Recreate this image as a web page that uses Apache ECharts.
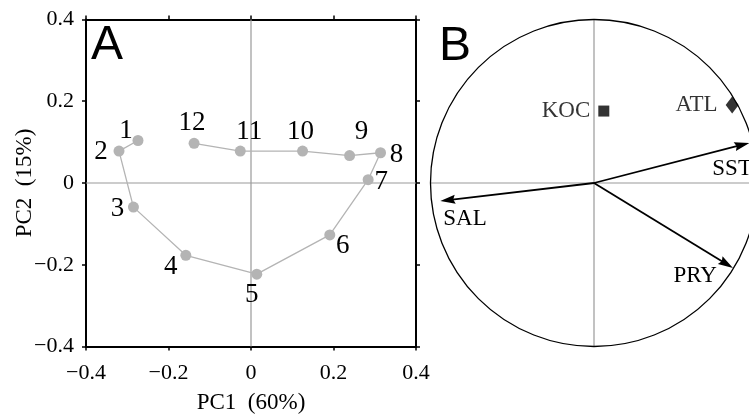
<!DOCTYPE html>
<html>
<head>
<meta charset="utf-8">
<script src="https://cdn.jsdelivr.net/npm/echarts@6/dist/echarts.min.js"></script>
<style>
  html, body { margin: 0; padding: 0; background: #fff; }
  #chart { width: 749px; height: 417px; }
</style>
</head>
<body>
<div id="chart"></div>
<script>
// ---- Panel A: monthly PCA scores ----
const months = ['1', '2', '3', '4', '5', '6', '7', '8', '9', '10', '11', '12'];
const pc1Scores = [-0.274, -0.320, -0.285, -0.158, 0.014, 0.191, 0.284, 0.314, 0.239, 0.125, -0.026, -0.138];
const pc2Scores = [0.104, 0.078, -0.059, -0.177, -0.223, -0.127, 0.008, 0.074, 0.067, 0.078, 0.078, 0.097];
const scoreTicks = [-0.4, -0.2, 0, 0.2, 0.4];

// ---- Panel B: correlation circle ----
const varNames = ['SST', 'SAL', 'PRY'];
const varPC1 = [0.950, -0.940, 0.850];
const varPC2 = [0.245, -0.110, -0.520];
const suppNames = ['KOC', 'ATL'];
const suppPC1 = [0.060, 0.845];
const suppPC2 = [0.440, 0.477];

const SERIF = "'Liberation Serif', 'Times New Roman', serif";
const SANS = "'Liberation Sans', Arial, sans-serif";

// label placement (pixel offsets) for the month numbers
const monthLabelOffset = [
  [-12, -10], [-18, 1], [-16, 2], [-15, 12], [-5, 21], [13, 11],
  [13, 2], [16, 2], [12, -24], [-2, -19], [9, -19], [-2, -20]
];
// label placement for the loading vectors: [dx, dy, align]
const varLabelPlace = {
  SST: [-37, 26, 'left'],
  SAL: [3, 18, 'left'],
  PRY: [-16, 8, 'right']
};

const fmtTick = v => (v === 0 ? '0' : String(+v.toFixed(1)).replace('-', '\u2212'));
const tMin = scoreTicks[0], tMax = scoreTicks[scoreTicks.length - 1];
const tStep = +(scoreTicks[1] - scoreTicks[0]).toFixed(2);

// Panel B layout: the unit circle runs past the right edge of the page,
// so the x-range is cut where the page ends.
const CANVAS_W = 749;
const bLeft = 430.5, bTop = 19.5, bDiam = 327;
const bWidth = CANVAS_W - bLeft;
const bXMax = -1 + 2 * bWidth / bDiam;

const monthData = months.map((m, i) => ({
  value: [pc1Scores[i], pc2Scores[i]],
  name: m,
  label: { offset: monthLabelOffset[i] }
}));

const frameAxisLine = { show: true, onZero: false, lineStyle: { color: '#000', width: 2 } };
const frameTick = { show: true, inside: false, length: 4, lineStyle: { color: '#000', width: 1.5 } };
const tickLabel = { formatter: fmtTick, fontFamily: SERIF, fontSize: 22, color: '#000' };

const chart = echarts.init(document.getElementById('chart'), null, { renderer: 'canvas' });

chart.setOption({
  animation: false,
  backgroundColor: '#fff',
  grid: [
    { left: 86, top: 19.5, width: 330, height: 327, outerBoundsMode: 'none', containLabel: false },
    { left: bLeft, top: bTop, width: bWidth, height: bDiam, outerBoundsMode: 'none', containLabel: false }
  ],
  xAxis: [
    {
      gridIndex: 0, type: 'value', min: tMin, max: tMax, interval: tStep,
      position: 'bottom',
      name: 'PC1  (60%)', nameLocation: 'middle', nameGap: 45,
      nameTextStyle: { fontFamily: SERIF, fontSize: 23, color: '#000' },
      axisLine: frameAxisLine, axisTick: frameTick,
      axisLabel: Object.assign({ margin: 16 }, tickLabel),
      splitLine: { show: false }
    },
    {
      gridIndex: 0, type: 'value', min: tMin, max: tMax, interval: tStep,
      position: 'top',
      axisLine: frameAxisLine, axisTick: frameTick,
      axisLabel: { show: false }, splitLine: { show: false }
    },
    { gridIndex: 1, type: 'value', min: -1, max: bXMax, show: false }
  ],
  yAxis: [
    {
      gridIndex: 0, type: 'value', min: tMin, max: tMax, interval: tStep,
      position: 'left',
      name: 'PC2  (15%)', nameLocation: 'middle', nameGap: 50, nameMoveOverlap: false,
      nameTextStyle: { fontFamily: SERIF, fontSize: 23, color: '#000' },
      axisLine: frameAxisLine, axisTick: frameTick,
      axisLabel: Object.assign({ margin: 12, padding: [4, 0, 0, 0] }, tickLabel),
      splitLine: { show: false }
    },
    {
      gridIndex: 0, type: 'value', min: tMin, max: tMax, interval: tStep,
      position: 'right',
      axisLine: frameAxisLine, axisTick: frameTick,
      axisLabel: { show: false }, splitLine: { show: false }
    },
    { gridIndex: 1, type: 'value', min: -1, max: 1, show: false }
  ],
  graphic: [
    { type: 'text', left: 91, top: 22, style: { text: 'A', font: '48px ' + SANS, fill: '#000' } },
    { type: 'text', left: 439, top: 23, style: { text: 'B', font: '48px ' + SANS, fill: '#000' } }
  ],
  series: [
    // zero reference lines of panel A
    {
      type: 'custom', xAxisIndex: 0, yAxisIndex: 0, z: 1, silent: true,
      data: [[0, 0]],
      renderItem: (params, api) => {
        const top = api.coord([0, tMax]), bottom = api.coord([0, tMin]);
        const left = api.coord([tMin, 0]), right = api.coord([tMax, 0]);
        const st = { stroke: '#999', lineWidth: 1.2 };
        return {
          type: 'group', children: [
            { type: 'line', shape: { x1: top[0], y1: top[1], x2: bottom[0], y2: bottom[1] }, style: st },
            { type: 'line', shape: { x1: left[0], y1: left[1], x2: right[0], y2: right[1] }, style: st }
          ]
        };
      }
    },
    // monthly trajectory
    {
      type: 'line', xAxisIndex: 0, yAxisIndex: 0, z: 3,
      data: monthData,
      symbol: 'circle', symbolSize: 11, showAllSymbol: true,
      itemStyle: { color: '#b4b4b4' },
      lineStyle: { color: '#b4b4b4', width: 1.3 },
      label: {
        show: true, position: 'inside', formatter: p => p.name,
        fontFamily: SERIF, fontSize: 27, color: '#000'
      }
    },
    // correlation circle and its axes
    {
      type: 'custom', xAxisIndex: 2, yAxisIndex: 2, z: 2, silent: true, clip: false,
      data: [[0, 0]],
      renderItem: (params, api) => {
        const c = api.coord([0, 0]);
        const r = api.size([1, 1])[1];
        const top = api.coord([0, 1]), bottom = api.coord([0, -1]);
        const left = api.coord([-1, 0]), right = api.coord([1, 0]);
        const gst = { stroke: '#999', lineWidth: 1.2 };
        return {
          type: 'group', children: [
            { type: 'line', shape: { x1: top[0], y1: top[1], x2: bottom[0], y2: bottom[1] }, style: gst },
            { type: 'line', shape: { x1: left[0], y1: left[1], x2: right[0], y2: right[1] }, style: gst },
            { type: 'circle', shape: { cx: c[0], cy: c[1], r: r }, style: { stroke: '#000', lineWidth: 1.3, fill: null } }
          ]
        };
      }
    },
    // loading vectors
    {
      type: 'custom', xAxisIndex: 2, yAxisIndex: 2, z: 4, silent: true, clip: false,
      data: varNames.map((n, i) => [varPC1[i], varPC2[i], i]),
      renderItem: (params, api) => {
        const o = api.coord([0, 0]);
        const t = api.coord([api.value(0), api.value(1)]);
        const name = varNames[api.value(2)];
        const dx = t[0] - o[0], dy = t[1] - o[1];
        const len = Math.sqrt(dx * dx + dy * dy);
        const ux = dx / len, uy = dy / len;
        const headLen = 15, headHalf = 4.5;
        const bx = t[0] - ux * headLen, by = t[1] - uy * headLen;
        const pl = varLabelPlace[name];
        return {
          type: 'group', children: [
            { type: 'line', shape: { x1: o[0], y1: o[1], x2: bx + ux * 3, y2: by + uy * 3 }, style: { stroke: '#000', lineWidth: 1.8 } },
            {
              type: 'polygon',
              shape: { points: [[t[0], t[1]], [bx - uy * headHalf, by + ux * headHalf], [bx + ux * 2, by + uy * 2], [bx + uy * headHalf, by - ux * headHalf]] },
              style: { fill: '#000' }
            },
            {
              type: 'text', x: t[0] + pl[0], y: t[1] + pl[1],
              style: { text: name, font: '23px ' + SERIF, fill: '#000', align: pl[2], verticalAlign: 'middle' }
            }
          ]
        };
      }
    },
    // supplementary variables
    {
      type: 'scatter', xAxisIndex: 2, yAxisIndex: 2, z: 5,
      data: suppNames.map((n, i) => ({
        name: n, value: [suppPC1[i], suppPC2[i]],
        symbol: n === 'KOC' ? 'rect' : 'diamond',
        symbolSize: n === 'KOC' ? 11 : [13, 17]
      })),
      itemStyle: { color: '#000' },
      label: {
        show: true, position: 'left', distance: 8, formatter: p => p.name,
        fontFamily: SERIF, fontSize: 23, color: '#000'
      }
    }
  ]
});
</script>
</body>
</html>
